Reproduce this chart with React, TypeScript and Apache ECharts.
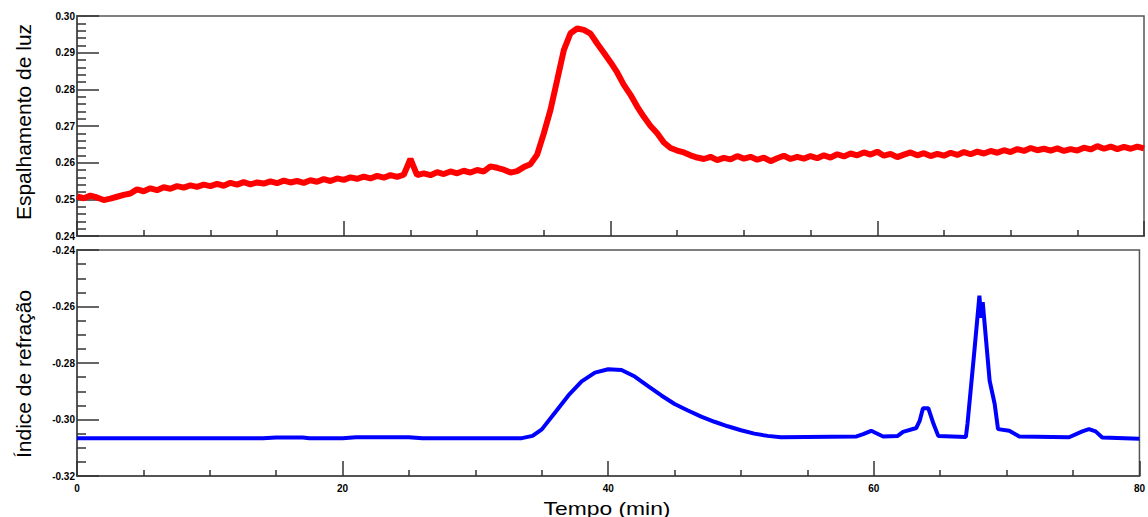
import React, { useEffect, useRef } from "react";
import * as echarts from "echarts";

// Tempo (min) tick labels
const xTicks = [0, 20, 40, 60, 80];

// Espalhamento de luz (light scattering), sampled every 0.5 min from 0 to 80 min
const RED_STEP = 0.5;
const redValues = [
  0.2508, 0.2503, 0.2510, 0.2505, 0.2498, 0.2502, 0.2507, 0.2512, 0.2516, 0.2527,
  0.2522, 0.2530, 0.2525, 0.2533, 0.2529, 0.2536, 0.2532, 0.2538, 0.2534, 0.2540,
  0.2536, 0.2542, 0.2537, 0.2545, 0.2540, 0.2547, 0.2541, 0.2546, 0.2543, 0.2549,
  0.2544, 0.2551, 0.2546, 0.2550, 0.2545, 0.2552, 0.2548, 0.2555, 0.2550, 0.2557,
  0.2553, 0.2560, 0.2556, 0.2562, 0.2557, 0.2564, 0.2559, 0.2566, 0.2561, 0.2567,
  0.2610, 0.2566, 0.2571, 0.2566, 0.2574, 0.2569, 0.2576, 0.2571, 0.2578, 0.2573,
  0.2580, 0.2576, 0.2590, 0.2586, 0.2581, 0.2573, 0.2577, 0.2588, 0.2596, 0.2622,
  0.2680, 0.2744, 0.2825, 0.2907, 0.2953, 0.2966, 0.2962, 0.2952, 0.2925, 0.2900,
  0.2874, 0.2846, 0.2812, 0.2785, 0.2753, 0.2725, 0.2700, 0.2680, 0.2655, 0.2640,
  0.2633, 0.2628, 0.2620, 0.2614, 0.2610, 0.2616, 0.2607, 0.2613, 0.2609, 0.2618,
  0.2611, 0.2616, 0.2608, 0.2614, 0.2604, 0.2612, 0.2619, 0.2610, 0.2616, 0.2611,
  0.2618, 0.2612, 0.2620, 0.2614, 0.2623, 0.2617, 0.2625, 0.2620, 0.2628, 0.2622,
  0.2630, 0.2619, 0.2624, 0.2615, 0.2622, 0.2628, 0.2620, 0.2626, 0.2618, 0.2624,
  0.2619, 0.2627, 0.2621, 0.2629, 0.2623, 0.2630, 0.2625, 0.2632, 0.2627, 0.2634,
  0.2629, 0.2637, 0.2632, 0.2640, 0.2634, 0.2638, 0.2633, 0.2639, 0.2632, 0.2637,
  0.2633, 0.2641, 0.2636, 0.2645, 0.2638, 0.2644, 0.2637, 0.2643, 0.2638, 0.2644,
  0.2639,
];

// Índice de refração (refractive index)
const blueTime = [
  0, 14, 15, 17, 17.5, 20, 21, 25, 26, 33.5,
  34.3, 35, 36, 37, 38, 39, 40, 41, 42, 43,
  44, 45, 46, 47, 48, 49, 50, 51, 52, 53,
  58.7, 59.2, 59.8, 60.7, 61.8, 62.2, 63.2, 63.45, 63.7, 64.1,
  64.5, 64.85, 66.93, 67.05, 67.55, 67.95, 68.07, 68.2, 68.72, 69.1,
  69.35, 70.2, 70.95, 74.7, 75.7, 76.2, 76.7, 77.2, 80,
];
const blueValue = [
  -0.3066, -0.3066, -0.3064, -0.3064, -0.3066, -0.3066, -0.3063, -0.3063, -0.3066, -0.3066,
  -0.3058, -0.3035, -0.2975, -0.2915, -0.2865, -0.2834, -0.2822, -0.2825, -0.2848, -0.2882,
  -0.2915, -0.2945, -0.2968, -0.2990, -0.3008, -0.3024, -0.3038, -0.3050, -0.3058, -0.3063,
  -0.3060, -0.3052, -0.3040, -0.3060, -0.3058, -0.3044, -0.3030, -0.3005, -0.2960, -0.2960,
  -0.3016, -0.3058, -0.3062, -0.3016, -0.2768, -0.2562, -0.2640, -0.2585, -0.2863, -0.2945,
  -0.3034, -0.3040, -0.3060, -0.3063, -0.3042, -0.3034, -0.3042, -0.3064, -0.3068,
];

const FONT = "Liberation Sans, Arial, sans-serif";
const AXIS_COLOR = "#555555";

function axisCommon() {
  return {
    axisLine: { show: true, onZero: false, lineStyle: { color: AXIS_COLOR, width: 2 } },
    splitLine: { show: false },
    axisTick: { show: true, inside: true, lineStyle: { color: "#333", width: 1.5 } },
    minorTick: { show: true, lineStyle: { color: "#333", width: 1.5 } },
  };
}

export default function App() {
  const ref = useRef<HTMLDivElement>(null);

  useEffect(() => {
    if (!ref.current) return;
    const chart = echarts.init(ref.current, undefined, { renderer: "svg" });
    const redData = redValues.map((v, i) => [i * RED_STEP, v]);
    const blueData = blueTime.map((t, i) => [t, blueValue[i]]);

    const c = axisCommon();
    const xBase = (gridIndex: number, showLabels: boolean) => ({
      type: "value",
      gridIndex,
      min: xTicks[0],
      max: xTicks[xTicks.length - 1],
      interval: 20,
      axisLine: c.axisLine,
      splitLine: c.splitLine,
      axisTick: { ...c.axisTick, length: 15 },
      minorTick: { ...c.minorTick, splitNumber: 4, length: 6 },
      axisLabel: {
        show: showLabels,
        fontSize: 10,
        fontFamily: FONT,
        fontWeight: "bold",
        color: "#000",
        margin: 7,
        formatter: (v: number) => String(v),
      },
    });

    chart.setOption({
      animation: false,
      backgroundColor: "#ffffff",
      grid: [
        { left: 77, top: 16, width: 1067, height: 220, show: true, borderColor: AXIS_COLOR, borderWidth: 1.5, backgroundColor: "transparent" },
        { left: 77, top: 250, width: 1067, height: 226, show: true, borderColor: AXIS_COLOR, borderWidth: 1.5, backgroundColor: "transparent" },
      ],
      xAxis: [xBase(0, false), xBase(1, true)],
      yAxis: [
        {
          type: "value",
          gridIndex: 0,
          min: 0.24,
          max: 0.3,
          interval: 0.01,
          axisLine: c.axisLine,
          splitLine: c.splitLine,
          axisTick: { ...c.axisTick, length: 22 },
          minorTick: { ...c.minorTick, splitNumber: 5, length: 9 },
          axisLabel: {
            fontSize: 10,
            fontFamily: FONT,
            fontWeight: "bold",
            color: "#000",
            margin: 2,
            formatter: (v: number) => v.toFixed(2),
          },
        },
        {
          type: "value",
          gridIndex: 1,
          min: -0.32,
          max: -0.24,
          interval: 0.02,
          axisLine: c.axisLine,
          splitLine: c.splitLine,
          axisTick: { ...c.axisTick, length: 22 },
          minorTick: { ...c.minorTick, splitNumber: 4, length: 9 },
          axisLabel: {
            fontSize: 10,
            fontFamily: FONT,
            fontWeight: "bold",
            color: "#000",
            margin: 2,
            formatter: (v: number) => v.toFixed(2),
          },
        },
      ],
      series: [
        {
          name: "Espalhamento de luz",
          type: "line",
          xAxisIndex: 0,
          yAxisIndex: 0,
          data: redData,
          showSymbol: false,
          lineStyle: { color: "#ff0000", width: 6 },
          itemStyle: { color: "#ff0000" },
        },
        {
          name: "Índice de refração",
          type: "line",
          xAxisIndex: 1,
          yAxisIndex: 1,
          data: blueData,
          showSymbol: false,
          lineStyle: { color: "#0000ff", width: 4 },
          itemStyle: { color: "#0000ff" },
        },
      ],
      graphic: [
        {
          type: "text",
          x: 23,
          y: 122,
          rotation: Math.PI / 2,
          style: {
            text: "Espalhamento de luz",
            fontSize: 21,
            fontFamily: FONT,
            fill: "#000",
            align: "center",
            verticalAlign: "middle",
          },
        },
        {
          type: "text",
          x: 23,
          y: 374,
          rotation: Math.PI / 2,
          style: {
            text: "Índice de refração",
            fontSize: 21,
            fontFamily: FONT,
            fill: "#000",
            align: "center",
            verticalAlign: "middle",
          },
        },
        {
          type: "text",
          x: 607,
          y: 508,
          scaleX: 1.27,
          style: {
            text: "Tempo (min)",
            fontSize: 18,
            fontFamily: FONT,
            fill: "#000",
            align: "center",
            verticalAlign: "middle",
          },
        },
      ],
    });

    return () => chart.dispose();
  }, []);

  return (
    <div
      ref={ref}
      style={{ position: "absolute", left: 0, top: 0, width: 1148, height: 517 }}
    />
  );
}
